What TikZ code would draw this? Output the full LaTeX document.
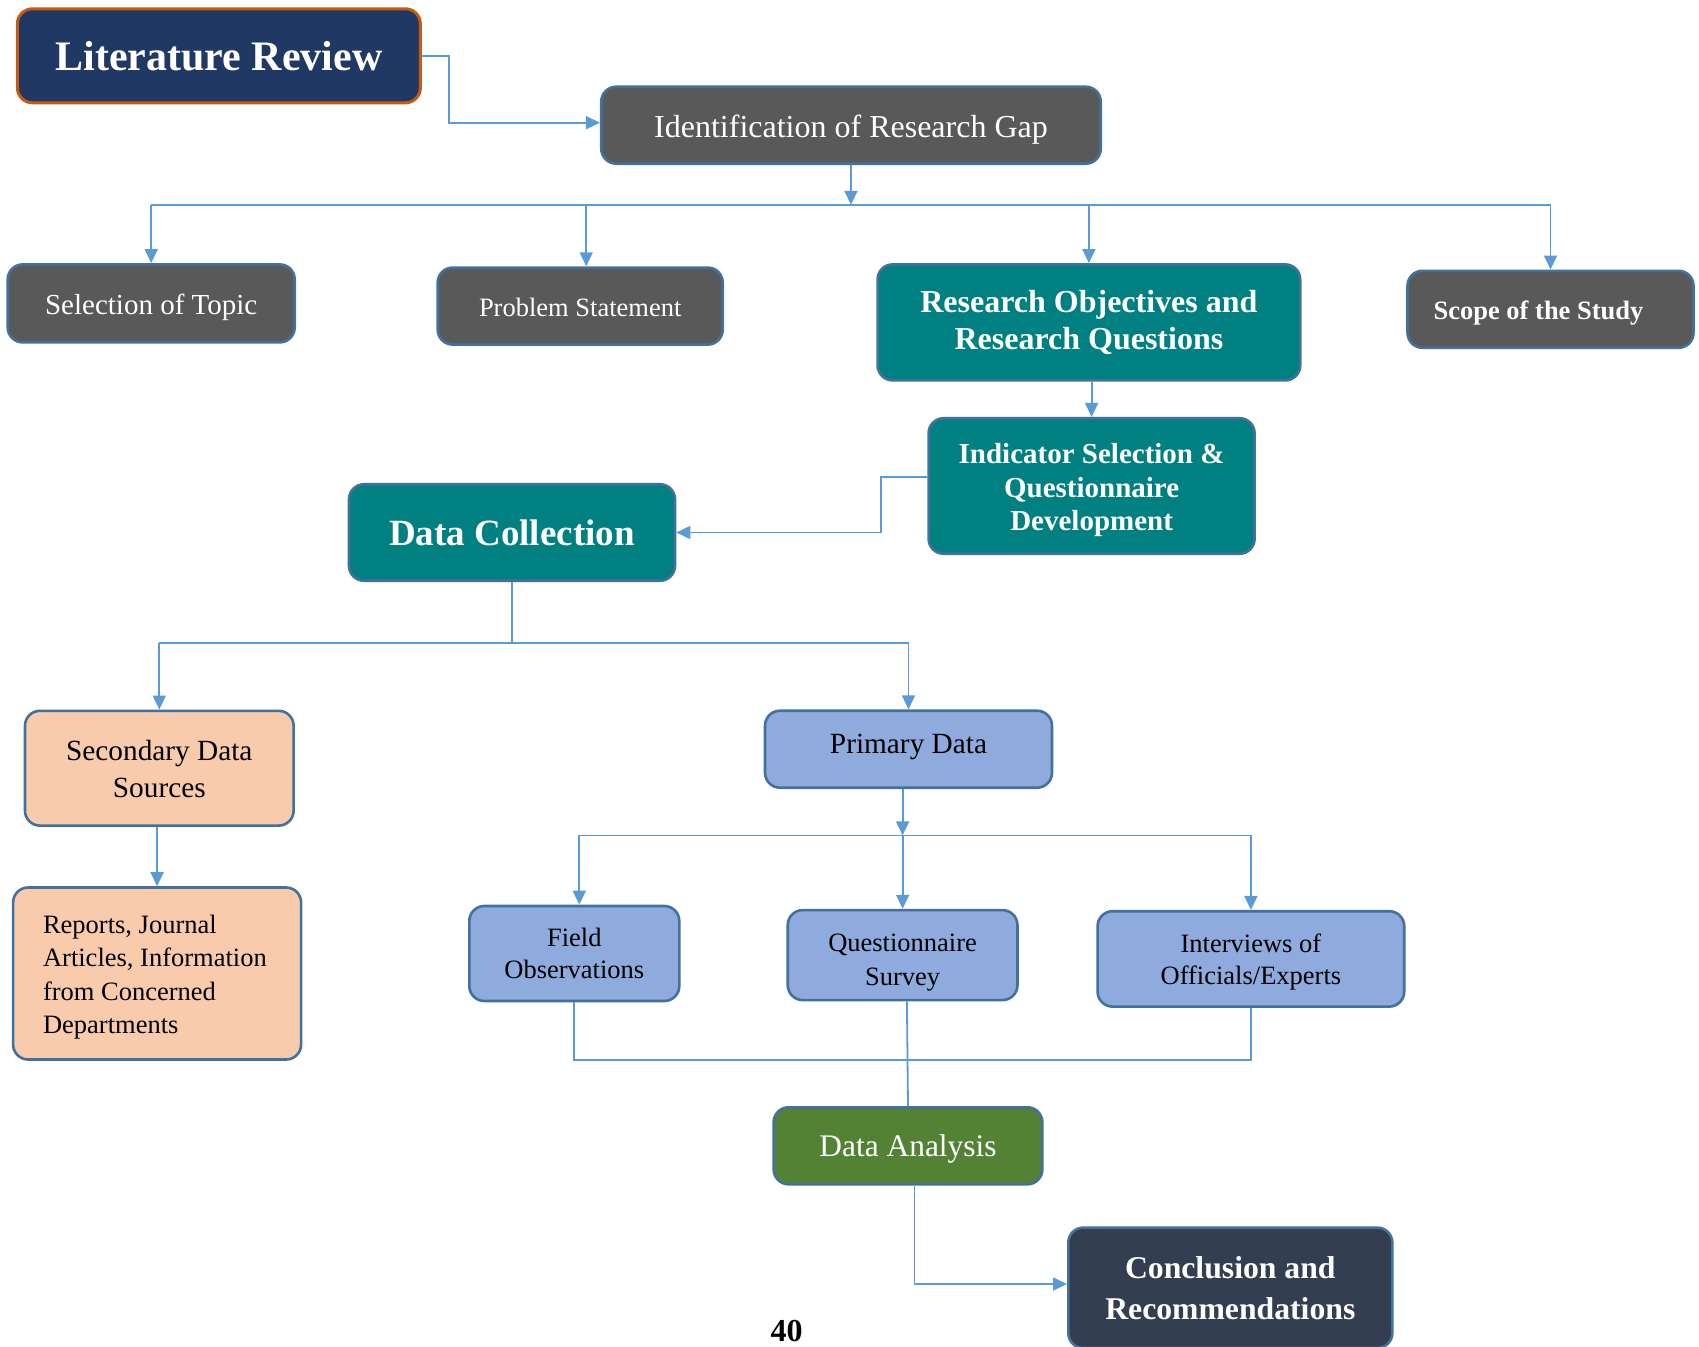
\documentclass[tikz,border=0pt]{standalone}
\usepackage{fontspec}
\setmainfont{Liberation Serif}
\usetikzlibrary{arrows.meta,calc}
\definecolor{navy}{HTML}{203864}
\definecolor{orangeb}{HTML}{C55A11}
\definecolor{grayb}{HTML}{595959}
\definecolor{bordb}{HTML}{41719C}
\definecolor{tealb}{HTML}{008080}
\definecolor{peach}{HTML}{F8CBAD}
\definecolor{lblue}{HTML}{8FAADC}
\definecolor{greenb}{HTML}{548235}
\definecolor{slate}{HTML}{333F50}
\definecolor{conn}{HTML}{5B9BD5}
\newcommand{\fs}[2]{\fontsize{#1}{#2}\selectfont}
\newcommand{\tx}[2]{\raisebox{#1}[\height][\depth]{\begin{tabular}{@{}c@{}}#2\end{tabular}}}
\newcommand{\txl}[2]{\raisebox{#1}[\height][\depth]{\begin{tabular}{@{}l@{\hspace{4.4pt}}}#2\end{tabular}}}
\begin{document}
\begin{tikzpicture}[x=1pt,y=-1pt,
  box/.style={draw=bordb, line width=2.6pt, rounded corners=15pt, inner sep=0pt, align=center, text=white},
  graybox/.style={box, fill=grayb},
  tealbox/.style={box, fill=tealb},
  peachbox/.style={box, fill=peach, text=black},
  bluebox/.style={box, fill=lblue, text=black},
  cline/.style={draw=conn, line width=1.8pt},
  carrow/.style={cline, -{Triangle[length=14pt,width=13pt]}}]
\useasboundingbox (0,0) rectangle (1699,1346);
\clip (0,0) rectangle (1699,1346);

\node[box, fill=navy, draw=orangeb, line width=3pt, minimum width=403, minimum height=94, font=\fs{42}{48}\bfseries] (lr) at (218.9,55.8) {Literature Review};
\node[graybox, minimum width=499.5, minimum height=77, font=\fs{32}{37}] (irg) at (851,125.2) {\tx{-4.4pt}{Identification of Research Gap}};
\node[graybox, minimum width=287, minimum height=78, font=\fs{29}{34}] (sot) at (151.2,303.4) {\tx{-4.3pt}{Selection of Topic}};
\node[graybox, minimum width=285, minimum height=77, font=\fs{26.5}{31}] (ps) at (580.2,306.1) {\tx{-4.3pt}{Problem Statement}};
\node[tealbox, minimum width=422.6, minimum height=116, font=\fs{32}{36.8}\bfseries] (ro) at (1088.9,322.4) {Research Objectives and\\Research Questions};
\node[graybox, minimum width=286, minimum height=77, font=\fs{26.5}{31}\bfseries] (scope) at (1550.5,309.3) {\tx{-4.3pt}{Scope of the Study\kern24pt}};
\node[tealbox, minimum width=326, minimum height=135.5, font=\fs{29}{33.6}\bfseries] (ind) at (1091.6,486) {\tx{-4.3pt}{Indicator Selection \&\\Questionnaire\\Development}};
\node[tealbox, minimum width=326, minimum height=96.5, font=\fs{37}{42}\bfseries] (dc) at (512,532.5) {Data Collection};
\node[peachbox, minimum width=268.7, minimum height=114.8, font=\fs{29.3}{36.8}] (sds) at (159.3,768.2) {\tx{-3.7pt}{Secondary Data\\Sources}};
\node[peachbox, minimum width=288, minimum height=172, font=\fs{26.5}{33.6}] (rep) at (157.1,973.5) {\txl{-3.3pt}{Reports, Journal\\Articles, Information\\from Concerned\\Departments}};
\node[bluebox, minimum width=287, minimum height=77, font=\fs{29.3}{34}] (pd) at (908.5,749.2) {\tx{2.2pt}{Primary Data}};
\node[bluebox, minimum width=210, minimum height=95, font=\fs{26.5}{32.5}] (fo) at (574.3,953.5) {Field\\Observations};
\node[bluebox, minimum width=229.7, minimum height=90, font=\fs{26.5}{33.6}] (qs) at (902.6,955.1) {\tx{-6.5pt}{Questionnaire\\Survey}};
\node[bluebox, minimum width=306.6, minimum height=95.4, font=\fs{26.5}{32.5}] (io) at (1250.9,958.9) {\tx{-3.3pt}{Interviews of\\Officials/Experts}};
\node[box, fill=greenb, minimum width=268.7, minimum height=77, font=\fs{31.4}{36}] (da) at (908,1145.8) {\tx{-3.3pt}{Data Analysis}};
\node[box, fill=slate, minimum width=324, minimum height=120.4, font=\fs{31.7}{40.7}\bfseries] (conc) at (1230.3,1287.8) {Conclusion and\\Recommendations};
\node[font=\fs{32}{36}\bfseries, inner sep=0pt] (pg) at (786.6,1330.5) {40};

% connectors
\coordinate (j1) at (448.6,56);
\draw[carrow] (lr.east) -- (lr.east -| j1) |- ($(irg.west)+(0,-2.5)$);

\coordinate (bus1) at (849.5,204.8);
\draw[carrow] (irg.south) -- (irg.south |- bus1);
\draw[cline] (sot.north |- bus1) -- (scope.north |- bus1);
\coordinate (psin) at ($(ps.north)+(6,0)$);
\draw[carrow] (sot.north |- bus1) -- (sot.north);
\draw[carrow] (psin |- bus1) -- (psin);
\draw[carrow] (ro.north |- bus1) -- (ro.north);
\draw[carrow] (scope.north |- bus1) -- (scope.north);

\draw[carrow] (ind.north |- ro.south) -- (ind.north);

\coordinate (e2) at (880.9,0);
\coordinate (indout) at ($(ind.west)+(0,-9.3)$);
\draw[carrow] (indout) -- (indout -| e2) |- (dc.east);

\coordinate (bus2) at (512,643);
\draw[cline] (dc.south) -- (dc.south |- bus2);
\draw[cline] (sds.north |- bus2) -- (pd.north |- bus2);
\draw[carrow] (sds.north |- bus2) -- (sds.north);
\draw[carrow] (pd.north |- bus2) -- (pd.north);
\draw[carrow] (rep.north |- sds.south) -- (rep.north);

\coordinate (bus3) at (902,835.4);
\coordinate (foin) at ($(fo.north)+(5,0)$);
\draw[carrow] (qs.north |- pd.south) -- (qs.north |- bus3);
\draw[cline] (foin |- bus3) -- (io.north |- bus3);
\draw[carrow] (foin |- bus3) -- (foin);
\draw[carrow] (qs.north |- bus3) -- (qs.north);
\draw[carrow] (io.north |- bus3) -- (io.north);

\coordinate (bus4) at (900,1059.7);
\draw[cline] (fo.south) -- (fo.south |- bus4) -- (io.south |- bus4) -- (io.south);
\coordinate (qsout) at ($(qs.south)+(4.3,0)$);
\draw[cline] (qsout) -- (da.north);

\coordinate (daout) at ($(da.south)+(6.5,0)$);
\draw[carrow] (daout) |- ($(conc.west)+(0,-3.8)$);
\end{tikzpicture}
\end{document}
